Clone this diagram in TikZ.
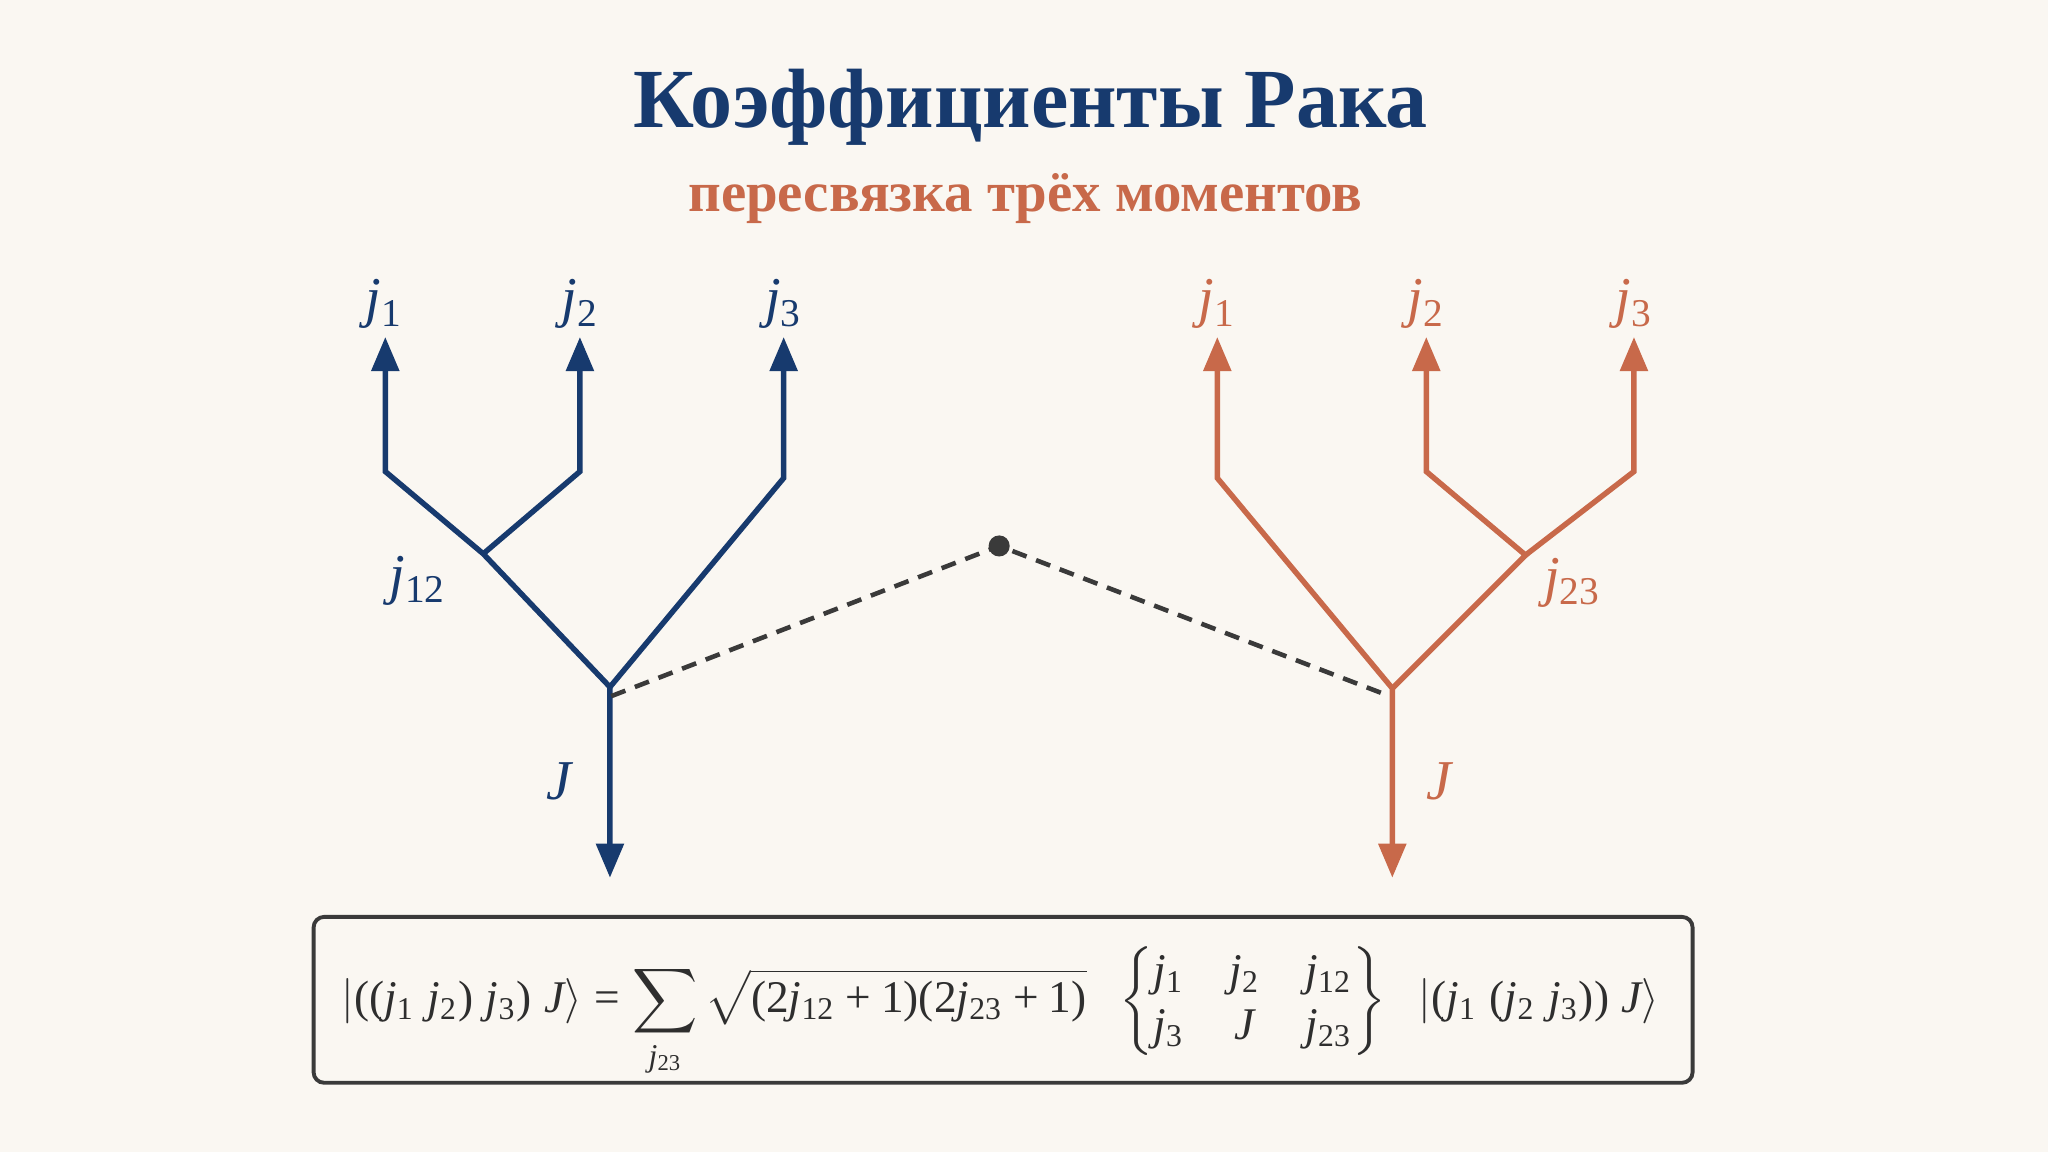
\documentclass[tikz,border=0pt]{standalone}
\usepackage{amsmath}
\usepackage[no-math]{fontspec}
\setmainfont{Liberation Serif}
\newfontfamily\timesmath{Liberation Serif}[NFSSFamily=libser]
\DeclareSymbolFont{tit}{TU}{libser}{m}{it}
\DeclareSymbolFont{tup}{TU}{libser}{m}{n}
\DeclareMathSymbol{j}{\mathalpha}{tit}{`j}
\DeclareMathSymbol{J}{\mathalpha}{tit}{`J}
\DeclareMathSymbol{0}{\mathalpha}{tup}{`0}
\DeclareMathSymbol{1}{\mathalpha}{tup}{`1}
\DeclareMathSymbol{2}{\mathalpha}{tup}{`2}
\DeclareMathSymbol{3}{\mathalpha}{tup}{`3}
\DeclareMathSymbol{+}{\mathbin}{tup}{`+}
\DeclareMathSymbol{=}{\mathrel}{tup}{`=}
\DeclareMathSymbol{(}{\mathopen}{tup}{`(}
\DeclareMathSymbol{)}{\mathclose}{tup}{`)}
\usetikzlibrary{arrows.meta}
\definecolor{bg}{HTML}{FAF7F2}
\definecolor{navy}{HTML}{173A6E}
\definecolor{rust}{HTML}{C8694A}
\definecolor{ink}{HTML}{3A3A3A}
\definecolor{formula}{HTML}{2E2E2E}
\begin{document}
\begin{tikzpicture}[x=0.013061cm,y=-0.013061cm,
  >={Triangle[width=7.7pt,length=9.7pt]},
  navyline/.style={draw=navy,line width=1.55pt},
  rustline/.style={draw=rust,line width=1.55pt},
  lbl/.style={font=\fontsize{16}{19}\selectfont,inner sep=0pt},
  dashlink/.style={draw=ink,line width=1.3pt,dash pattern=on 4.3pt off 2.9pt},
  dotnode/.style={circle,fill=ink,inner sep=0pt,minimum size=6pt},
  eqbox/.style={draw=ink,line width=1.1pt,rounded corners=3pt,fill=bg,
    minimum width=13.79cm,minimum height=1.659cm}]
\fill[bg] (0,0) rectangle (1568,882);
\useasboundingbox (0,0) rectangle (1568,882);

% titles
\node[anchor=base,text=navy,inner sep=0pt] (title) at (789,97.8)
  {\resizebox{225.9pt}{!}{\fontsize{25}{30}\selectfont\bfseries Коэффициенты Рака}};
\node[anchor=base,text=rust,inner sep=0pt] (subtitle) at (785,162)
  {\resizebox{191.8pt}{!}{\fontsize{16.5}{20}\selectfont\bfseries пересвязка трёх моментов}};

% left tree
\coordinate (lt1) at (295,258); \coordinate (lb1) at (295,361);
\coordinate (lt2) at (444,258); \coordinate (lb2) at (444,361);
\coordinate (lt3) at (600,258); \coordinate (lb3) at (600,366);
\coordinate (ln12) at (370,424);
\coordinate (lroot) at (467,526);
\coordinate (lJ) at (467,672);
\draw[navyline,<->] (lt1) -- (lb1) -- (ln12) -- (lroot) -- (lJ);
\draw[navyline,<-] (lt2) -- (lb2) -- (ln12);
\draw[navyline,<-] (lt3) -- (lb3) -- (lroot);
\node[lbl,text=navy] (lj1) at (294,233) {$j_1$};
\node[lbl,text=navy] (lj2) at (444,233) {$j_2$};
\node[lbl,text=navy] (lj3) at (600,233) {$j_3$};
\node[lbl,text=navy] (lj12) at (320,445) {$j_{12}$};
\node[lbl,text=navy] (lJl) at (428,598) {$J$};

% right tree
\coordinate (rt1) at (932,258); \coordinate (rb1) at (932,366);
\coordinate (rt2) at (1092,258); \coordinate (rb2) at (1092,361);
\coordinate (rt3) at (1251,258); \coordinate (rb3) at (1251,361);
\coordinate (rn23) at (1168,425);
\coordinate (rroot) at (1066,527);
\coordinate (rJ) at (1066,672);
\draw[rustline,<->] (rt1) -- (rb1) -- (rroot) -- (rJ);
\draw[rustline,<-] (rt2) -- (rb2) -- (rn23) -- (rroot);
\draw[rustline,<-] (rt3) -- (rb3) -- (rn23);
\node[lbl,text=rust] (rj1) at (932,233) {$j_1$};
\node[lbl,text=rust] (rj2) at (1092,233) {$j_2$};
\node[lbl,text=rust] (rj3) at (1251,233) {$j_3$};
\node[lbl,text=rust] (rj23) at (1204,446) {$j_{23}$};
\node[lbl,text=rust] (rJl) at (1102,598) {$J$};

% dashed link
\coordinate (dl) at (468,533);
\coordinate (dr) at (1064,533);
\node[dotnode] (dot) at (765,418) {};
\draw[dashlink] (dl) -- (dot.center) -- (dr);

% formula box
\node[eqbox] (box) at (768,765.5) {};
\node[anchor=base,text=formula,inner sep=0pt] (eq) at (766,775.5)
  {\resizebox{375pt}{!}{$\displaystyle
   |((j_1\;j_2)\;j_3)\;J\rangle = \sum_{j_{23}} \sqrt{(2j_{12}+1)(2j_{23}+1)}\;\;
   \begin{Bmatrix} j_1 & j_2 & j_{12}\\ j_3 & J & j_{23}\end{Bmatrix}\;\;
   |(j_1\;(j_2\;j_3))\;J\rangle$}};
\end{tikzpicture}
\end{document}
